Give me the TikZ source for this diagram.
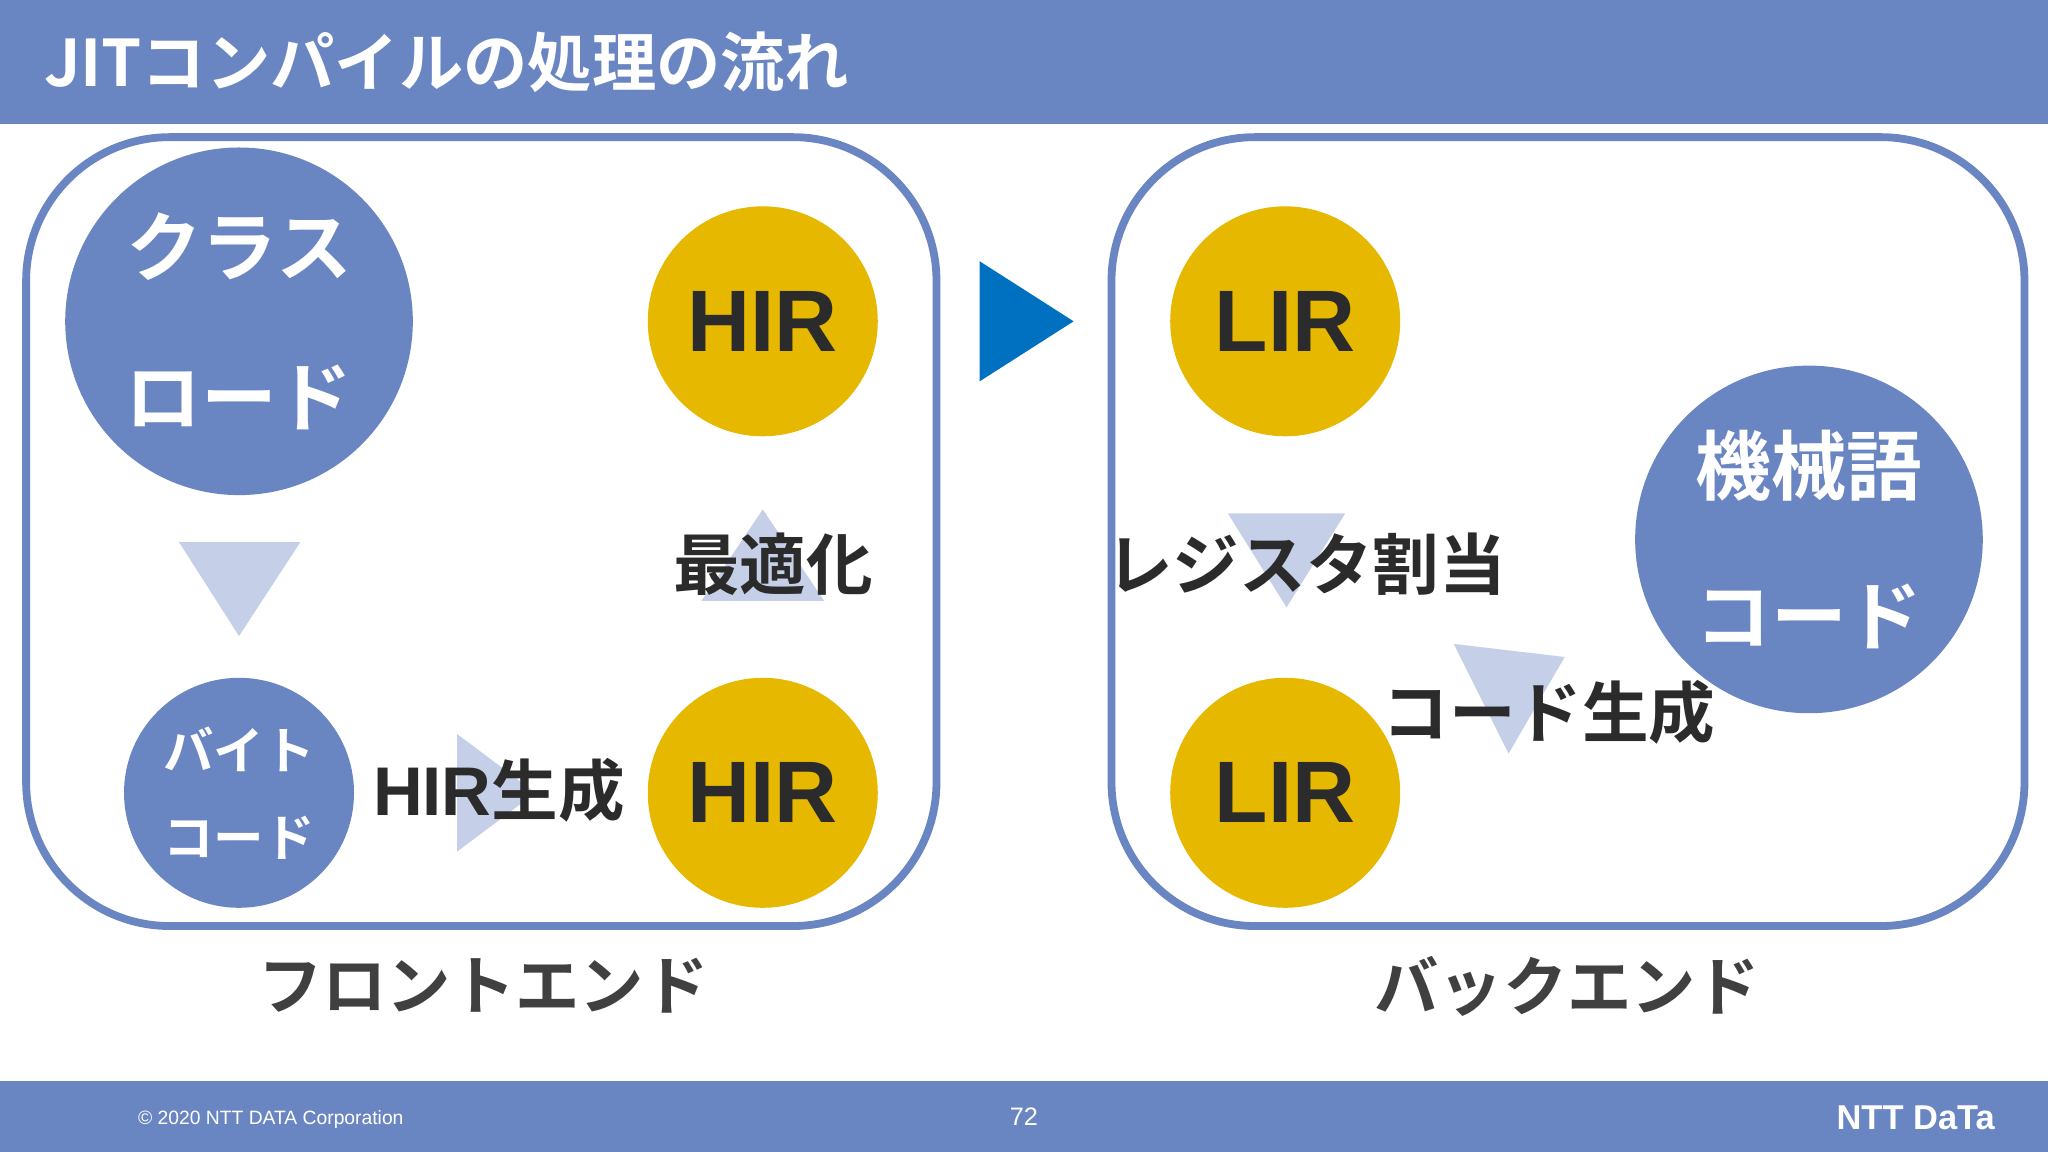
\documentclass[tikz,border=0pt]{standalone}
\usepackage{fontspec}
\setmainfont{Noto Sans CJK JP}
\newfontfamily\jpb{Noto Sans CJK JP Bold}
\newfontfamily\lat{Liberation Sans}
\definecolor{nttblue}{HTML}{6A86C2}
\definecolor{gold}{HTML}{E6B800}
\definecolor{lightb}{HTML}{C5D0E8}
\definecolor{darkb}{HTML}{0070C0}
\definecolor{txt}{HTML}{2B2B2B}
\newcommand{\fs}[1]{\fontsize{#1}{#1}\selectfont}
\begin{document}
\begin{tikzpicture}[x=0.01cm,y=-0.01cm,
  bluec/.style={circle,fill=nttblue,minimum size=#1,inner sep=0pt,text=white,align=center},
  goldc/.style={circle,fill=gold,minimum size=1.76cm,inner sep=0pt,text=txt,font=\lat\bfseries\fs{19}},
  panel/.style={draw=nttblue,line width=1.7pt,rounded corners=1.1cm},
  tri/.style={fill=lightb},
  lab/.style={font=\jpb\fs{14.5},text=txt,inner sep=0pt}]
\useasboundingbox (0,0) rectangle (1568,882);
\fill[white] (0,0) rectangle (1568,882);
\fill[nttblue] (0,0) rectangle (1568,95);
\fill[nttblue] (0,828) rectangle (1568,882);
\node[anchor=west,text=white,font=\jpb\fs{14},inner sep=0pt] (title) at (33,48) {JITコンパイルの処理の流れ};
\node[anchor=west,text=white,font=\lat\fs{4.2},inner sep=0pt] (copy) at (105,857) {© 2020 NTT DATA Corporation};
\node[text=white,font=\lat\fs{5.5},inner sep=0pt] (pg) at (784,855) {72};
\node[anchor=east,text=white,font=\lat\bfseries\fs{7.5},inner sep=0pt] (logo) at (1528,856) {NTT DaTa};
\draw[panel] (20,105) rectangle (717,709);
\draw[panel] (851,105) rectangle (1550,709);
\fill[darkb] (750,200) -- (750,292) -- (822,246) -- cycle;
% left
\fill[tri] (137,415) -- (230,415) -- (183,487) -- cycle;
\fill[tri] (350,562) -- (350,652) -- (410,607) -- cycle;
\fill[tri] (584,390) -- (537,460) -- (631,460) -- cycle;
\node[bluec=2.66cm,font=\jpb\fs{16.5}] (cls) at (183,246) {クラス\\[16pt]ロード};
\node[bluec=1.76cm,font=\jpb\fs{11}] (bc) at (183,607) {バイト\\[8pt]コード};
\node[goldc] (hir1) at (584,246) {HIR};
\node[goldc] (hir2) at (584,607) {HIR};
\node[lab] (gen) at (382,605) {{\lat\bfseries\fs{15}HIR}生成};
\node[lab] (opt) at (592,432) {最適化};
% right
\fill[tri] (940,393) -- (1030,393) -- (985,465) -- cycle;
\fill[tri] (1113,493) -- (1198,503) -- (1155,577) -- cycle;
\node[goldc] (lir1) at (984,246) {LIR};
\node[goldc] (lir2) at (984,607) {LIR};
\node[bluec=2.66cm,font=\jpb\fs{16.5}] (mc) at (1385,413) {機械語\\[16pt]コード};
\node[lab] (reg) at (1000,432) {レジスタ割当};
\node[lab] (cg) at (1186,545) {コード生成};
\node[font=\jpb\fs{14},text=black!75,inner sep=0pt] (fe) at (370,755) {フロントエンド};
\node[font=\jpb\fs{14},text=black!75,inner sep=0pt] (be) at (1200,755) {バックエンド};
\end{tikzpicture}
\end{document}
